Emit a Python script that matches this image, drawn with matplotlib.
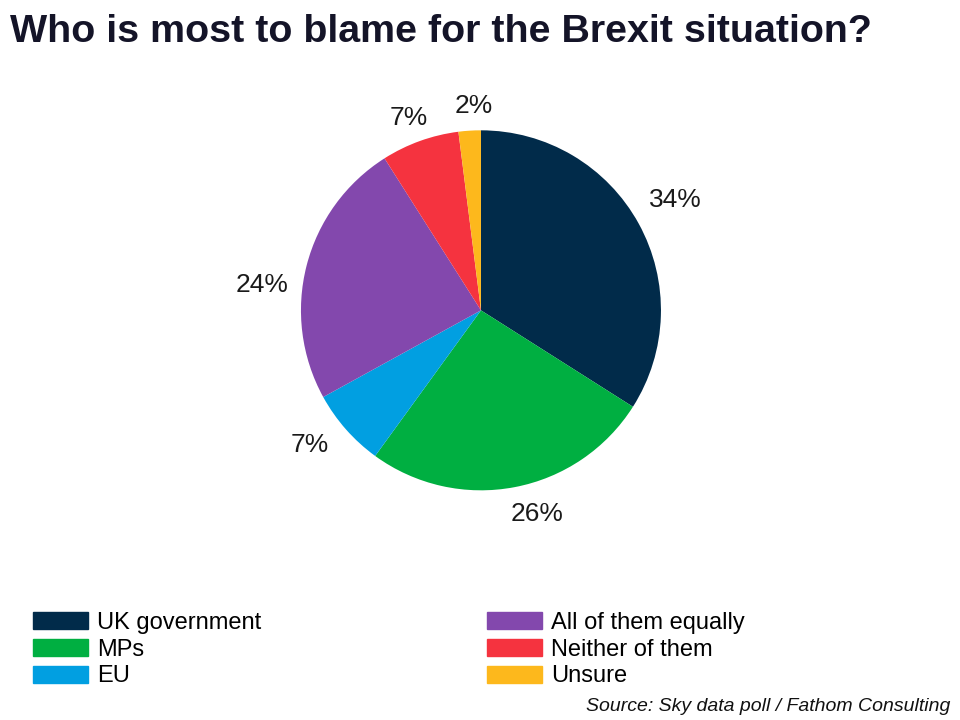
import matplotlib.pyplot as plt
import matplotlib.patches as mpatches
from matplotlib.transforms import ScaledTranslation

plt.rcParams['font.family'] = ['Liberation Sans', 'DejaVu Sans']

categories = ["UK government", "MPs", "EU", "All of them equally", "Neither of them", "Unsure"]
shares = [34, 26, 7, 24, 7, 2]
colors = ["#012B4A", "#00AF41", "#019FE1", "#8348AD", "#F5333F", "#FDB81C"]

# nudges (pixels) applied to the radial label positions, to mimic the original layout
label_nudge = [(5, 6.5), (15.5, 8.5), (-9, 8), (-10, -28), (1, -11), (6.5, -11.5)]

fig = plt.figure(figsize=(9.6, 7.2), dpi=100)
ax = fig.add_axes([0.3135, 0.319, 0.375, 0.5])

wedges, texts = ax.pie(shares, colors=colors, startangle=90, counterclock=False,
                       labels=[f"{v}%" for v in shares], labeldistance=1.2,
                       textprops={"fontsize": 19, "color": "#1a1a1a"})
for t, (dx, dy) in zip(texts, label_nudge):
    t.set_ha("center")
    t.set_va("center")
    t.set_transform(ax.transData + ScaledTranslation(dx / 100, dy / 100, fig.dpi_scale_trans))
ax.set_xlim(-1, 1)
ax.set_ylim(-1, 1)
ax.set_aspect("equal")

fig.text(0.010, 0.955, "Who is most to blame for the Brexit situation?",
         fontsize=28.4, fontweight="bold", color="#141428", va="center", ha="left")

# legend in two columns
handles = [mpatches.Patch(color=c, label=l) for c, l in zip(colors, categories)]
leg_kw = dict(frameon=False, fontsize=17, handlelength=2.33, handleheight=0.72,
              labelspacing=0.2, handletextpad=0.38, borderaxespad=0, borderpad=0)
fig.legend(handles=handles[:3], loc="upper left", bbox_to_anchor=(0.034, 0.150), **leg_kw)
fig.legend(handles=handles[3:], loc="upper left", bbox_to_anchor=(0.507, 0.150), **leg_kw)

fig.text(0.99, 0.019, "Source: Sky data poll / Fathom Consulting", fontsize=14,
         style="italic", ha="right", va="center", color="#111111")

plt.savefig("out.png", dpi=100)
plt.close()
